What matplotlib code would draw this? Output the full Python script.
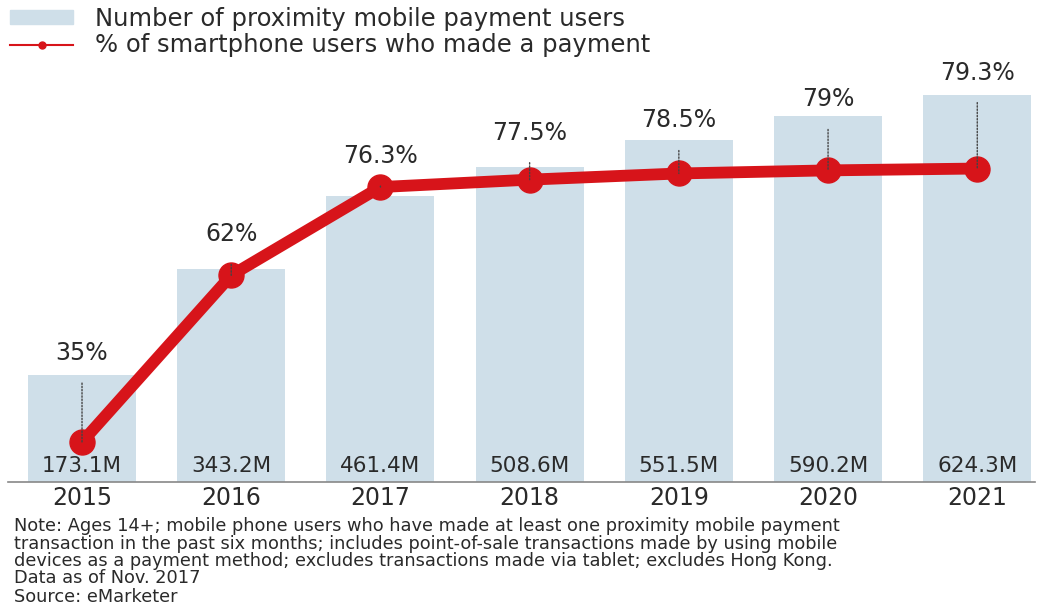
import matplotlib
matplotlib.use("Agg")
import matplotlib.pyplot as plt
from matplotlib.patches import Patch
from matplotlib.lines import Line2D

plt.rcParams['font.family'] = ['DejaVu Sans']

years = ["2015", "2016", "2017", "2018", "2019", "2020", "2021"]
users_m = [173.1, 343.2, 461.4, 508.6, 551.5, 590.2, 624.3]
share_pct = [35, 62, 76.3, 77.5, 78.5, 79, 79.3]
share_labels = ["35%", "62%", "76.3%", "77.5%", "78.5%", "79%", "79.3%"]

# label offsets above each dot, in pixels
label_off = [89, 41, 31, 47, 53, 71, 96]

BAR = "#cfdfe9"
RED = "#d7141a"
TXT = "#2a2a2a"

fig = plt.figure(figsize=(10.4, 6.08), dpi=100)
ax = fig.add_axes([0.0077, 0.207, 0.9875, 0.694])
x = list(range(len(years)))

ax.bar(x, users_m, width=0.724, color=BAR, zorder=1)
ax.set_xlim(-0.496, 6.387)
ax.set_ylim(0, 681)
for i, v in enumerate(users_m):
    ax.text(i, 10, f"{v}M", ha="center", va="bottom", fontsize=15.5,
            color=TXT, zorder=5)

for s in ["top", "right", "left"]:
    ax.spines[s].set_visible(False)
ax.spines["bottom"].set_color("#888888")
ax.spines["bottom"].set_linewidth(1.2)
ax.set_yticks([])
ax.set_xticks(x)
ax.set_xticklabels(years, fontsize=17, color=TXT)
ax.tick_params(axis="x", length=0, pad=3)

ax2 = ax.twinx()
ax2.set_ylim(28.5, 96.85)
ax2.axis("off")
ax2.plot(x, share_pct, color=RED, lw=8.5, marker="o", markersize=18,
         solid_capstyle="round", zorder=3)
for i, (v, lab) in enumerate(zip(share_pct, share_labels)):
    ax2.annotate(lab, xy=(i, v), xytext=(0, label_off[i]),
                 textcoords="offset pixels", ha="center", va="center",
                 fontsize=17, color=TXT, zorder=4,
                 arrowprops=dict(arrowstyle="-", ls=(0, (1, 1.3)), color="#444444",
                                 lw=1.0, shrinkA=11, shrinkB=0))

handles = [Patch(color=BAR),
           Line2D([0], [0], color=RED, lw=1.5, marker="o", markersize=5)]
fig.legend(handles, ["Number of proximity mobile payment users",
                     "% of smartphone users who made a payment"],
           loc="upper left", bbox_to_anchor=(0.005, 0.997), frameon=False,
           borderaxespad=0.0, borderpad=0.2,
           fontsize=17.5, handlelength=2.6, handleheight=0.45, handletextpad=0.9,
           labelspacing=0.1, labelcolor=TXT)

note = ("Note: Ages 14+; mobile phone users who have made at least one proximity mobile payment\n"
        "transaction in the past six months; includes point-of-sale transactions made by using mobile\n"
        "devices as a payment method; excludes transactions made via tablet; excludes Hong Kong.\n"
        "Data as of Nov. 2017")
fig.text(0.013, 0.149, note, fontsize=12.8, color=TXT, va="top", linespacing=0.95)
fig.text(0.013, 0.003, "Source: eMarketer", fontsize=12.8, color=TXT, va="bottom")

fig.savefig("out.png", dpi=100)
